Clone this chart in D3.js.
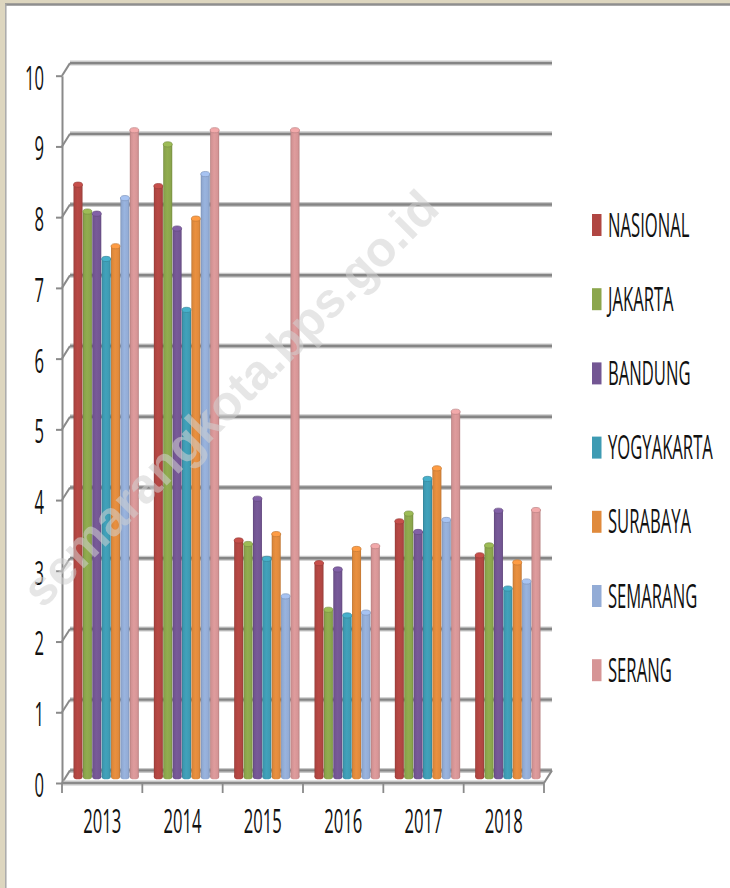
<!DOCTYPE html>
<html>
<head>
<meta charset="utf-8">
<script src="https://cdn.jsdelivr.net/npm/d3@7"></script>
<style>
  html, body { margin: 0; padding: 0; background: #fff; }
  svg { display: block; }
</style>
</head>
<body>
<svg id="chart" width="730" height="888"></svg>
<script>
// ---- data ----
const years = ["2013", "2014", "2015", "2016", "2017", "2018"];
const seriesNames = ["NASIONAL", "JAKARTA", "BANDUNG", "YOGYAKARTA", "SURABAYA", "SEMARANG", "SERANG"];
const nasional   = [8.37, 8.35, 3.34, 3.02, 3.61, 3.13];
const jakarta    = [7.99, 8.94, 3.29, 2.36, 3.72, 3.27];
const bandung    = [7.96, 7.75, 3.93, 2.93, 3.46, 3.76];
const yogyakarta = [7.32, 6.60, 3.08, 2.28, 4.21, 2.66];
const surabaya   = [7.50, 7.89, 3.43, 3.22, 4.36, 3.03];
const semarang   = [8.18, 8.52, 2.55, 2.32, 3.63, 2.76];
const serang     = [9.14, 9.14, 9.14, 3.26, 5.16, 3.77];
const yTicks = [0, 1, 2, 3, 4, 5, 6, 7, 8, 9, 10];
const watermark = "semarangkota.bps.go.id";

const seriesValues = [nasional, jakarta, bandung, yogyakarta, surabaya, semarang, serang];
const colors = ["#b04642", "#8ba64c", "#735693", "#3e9bb3", "#e08a3c", "#93acd6", "#d69596"];

// ---- layout ----
const svg = d3.select("#chart");
const depthX = 8, depthY = -12.6;
const xFront = d3.scaleBand().domain(years).range([62, 544]);
const yFront = d3.scaleLinear().domain([0, 10]).range([783, 75.7]);
const yBack = v => yFront(v) + depthY;
const yMid = v => yFront(v) + depthY / 2;
const xSeries = d3.scaleBand().domain(seriesNames).range([0, xFront.bandwidth()])
  .paddingInner(0.04).paddingOuter(0.8);
const fontFam = "'Open Sans', 'Liberation Sans', sans-serif";
const sx = 0.52;

// frame
svg.append("rect").attr("x", 0).attr("y", 0).attr("width", 730).attr("height", 888).attr("fill", "#fff");
svg.append("rect").attr("x", 0).attr("y", 0).attr("width", 730).attr("height", 4).attr("fill", "#ddd6bf");
svg.append("rect").attr("x", 0).attr("y", 0).attr("width", 5).attr("height", 888).attr("fill", "#ddd6bf");
svg.append("line").attr("x1", 5).attr("x2", 730).attr("y1", 4.5).attr("y2", 4.5).attr("stroke", "#8e8e8e").attr("stroke-width", 2.5);
svg.append("line").attr("x1", 5.8).attr("x2", 5.8).attr("y1", 4).attr("y2", 888).attr("stroke", "#a8a8a8").attr("stroke-width", 1.5);

const xL = xFront.range()[0], xR = xFront.range()[1];

// back wall gridlines
const grid = svg.append("g");
yTicks.forEach(t => {
  grid.append("line").attr("x1", xL + depthX).attr("x2", xR + depthX)
    .attr("y1", yBack(t)).attr("y2", yBack(t))
    .attr("stroke", "#c9c9c9").attr("stroke-width", 5);
  grid.append("line").attr("x1", xL + depthX).attr("x2", xR + depthX)
    .attr("y1", yBack(t)).attr("y2", yBack(t))
    .attr("stroke", "#858585").attr("stroke-width", 2.4);
  grid.append("line").attr("x1", xL).attr("x2", xL + depthX)
    .attr("y1", yFront(t)).attr("y2", yBack(t))
    .attr("stroke", "#8a8a8a").attr("stroke-width", 2);
});

// floor front edge and right connector
svg.append("line").attr("x1", xL).attr("x2", xR).attr("y1", yFront(0)).attr("y2", yFront(0))
  .attr("stroke", "#c4c4c4").attr("stroke-width", 5);
svg.append("line").attr("x1", xL).attr("x2", xR).attr("y1", yFront(0)).attr("y2", yFront(0))
  .attr("stroke", "#8a8a8a").attr("stroke-width", 2);
svg.append("line").attr("x1", xR).attr("x2", xR + depthX).attr("y1", yFront(0)).attr("y2", yBack(0))
  .attr("stroke", "#8a8a8a").attr("stroke-width", 2);

// boundary ticks on category axis
const bounds = years.map(y => xFront(y)).concat([xR]);
svg.append("g").selectAll("line").data(bounds).join("line")
  .attr("x1", d => d).attr("x2", d => d)
  .attr("y1", yFront(0)).attr("y2", yFront(0) + 10)
  .attr("stroke", "#8a8a8a").attr("stroke-width", 1.8);

// y axis
const yAxis = svg.append("g").attr("transform", `translate(${xL},0)`)
  .call(d3.axisLeft(yFront).tickValues(yTicks).tickSize(6).tickSizeOuter(0).tickFormat(d3.format("d")));
yAxis.select(".domain").attr("stroke", "#8a8a8a").attr("stroke-width", 2);
yAxis.selectAll(".tick line").attr("stroke", "#8a8a8a").attr("stroke-width", 2);
yAxis.selectAll(".tick text")
  .attr("font-family", fontFam).attr("font-size", 32).attr("fill", "#111")
  .attr("x", -18 / sx).attr("dy", "0.42em")
  .attr("transform", `scale(${sx},1)`);

// x axis labels
const xAxis = svg.append("g").attr("transform", `translate(0,${yFront(0)})`)
  .call(d3.axisBottom(xFront).tickSize(0).tickPadding(0));
xAxis.select(".domain").remove();
xAxis.selectAll(".tick text")
  .attr("font-family", fontFam).attr("font-size", 32).attr("fill", "#111")
  .attr("y", 0).attr("dy", "1.55em")
  .attr("transform", `scale(${sx},1)`)
  .each(function() {
    const g = d3.select(this.parentNode);
    const m = /translate\(([-\d.]+),/.exec(g.attr("transform"));
    const cx = +m[1];
    g.attr("transform", `translate(0,0)`);
    d3.select(this).attr("x", cx / sx);
  });

// gradients
const defs = svg.append("defs");
colors.forEach((c, i) => {
  const base = d3.color(c);
  const g = defs.append("linearGradient").attr("id", "grad" + i)
    .attr("x1", "0%").attr("x2", "100%").attr("y1", "0%").attr("y2", "0%");
  g.append("stop").attr("offset", "0%").attr("stop-color", base.darker(0.5));
  g.append("stop").attr("offset", "15%").attr("stop-color", base.darker(0.05));
  g.append("stop").attr("offset", "45%").attr("stop-color", base.brighter(0.12));
  g.append("stop").attr("offset", "82%").attr("stop-color", base);
  g.append("stop").attr("offset", "100%").attr("stop-color", base.darker(0.45));
});

// bars
const bw = xSeries.bandwidth();
const ry = 2.6;
const barData = [];
years.forEach((yr, yi) => {
  seriesNames.forEach((s, si) => {
    barData.push({ year: yr, name: s, si, value: seriesValues[si][yi] });
  });
});
const bars = svg.append("g").selectAll("g").data(barData).join("g")
  .attr("transform", d => `translate(${xFront(d.year) + depthX / 2 + xSeries(d.name)},0)`);
bars.append("ellipse")
  .attr("cx", bw / 2).attr("cy", yMid(0)).attr("rx", bw / 2).attr("ry", ry)
  .attr("fill", d => `url(#grad${d.si})`);
bars.append("rect")
  .attr("x", 0).attr("width", bw)
  .attr("y", d => yMid(d.value)).attr("height", d => yMid(0) - yMid(d.value))
  .attr("fill", d => `url(#grad${d.si})`);
bars.append("ellipse")
  .attr("cx", bw / 2).attr("cy", d => yMid(d.value)).attr("rx", bw / 2).attr("ry", ry)
  .attr("fill", d => d3.color(colors[d.si]).brighter(0.35))
  .attr("stroke", d => d3.color(colors[d.si]).darker(0.4)).attr("stroke-width", 0.7);

// legend
const legend = svg.append("g").attr("transform", "translate(592,225)");
const lg = legend.selectAll("g").data(seriesNames).join("g")
  .attr("transform", (d, i) => `translate(0,${i * 74.2})`);
lg.append("rect").attr("x", 0).attr("y", -11).attr("width", 9.5).attr("height", 22)
  .attr("fill", (d, i) => colors[i]);
lg.append("text").text(d => d)
  .attr("x", 16 / sx).attr("y", 0).attr("dy", "0.36em")
  .attr("transform", `scale(${sx},1)`)
  .attr("font-family", fontFam).attr("font-size", 32).attr("fill", "#111");

// watermark
svg.append("text").text(watermark)
  .attr("transform", "translate(230,398) rotate(-45)")
  .attr("text-anchor", "middle").attr("dy", "0.35em")
  .attr("font-family", "'Liberation Sans', Arial, sans-serif").attr("font-size", 49)
  .attr("font-weight", "bold")
  .attr("fill", "#d2d2d2").attr("fill-opacity", 0.55);
</script>
</body>
</html>
